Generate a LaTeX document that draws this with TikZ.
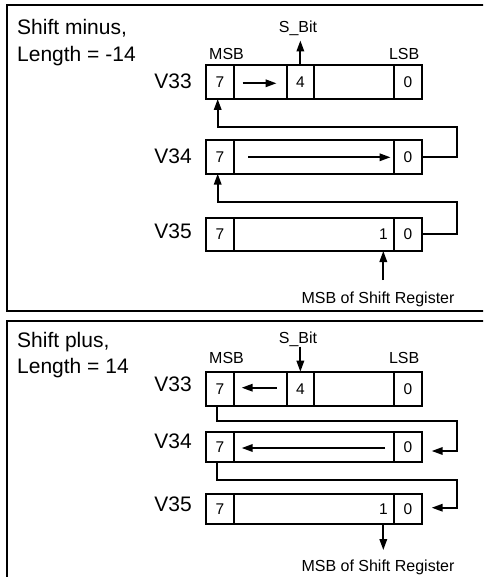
\documentclass[tikz,border=0pt]{standalone}
\usepackage{fontspec}
\setmainfont{Liberation Sans}
\usetikzlibrary{arrows.meta}
\begin{document}
\begin{tikzpicture}[x=1pt,y=-1pt,
  cell/.style={draw, line width=2pt, inner sep=0pt, outer sep=0pt, font=\fontsize{15.5}{18}\selectfont},
  panel/.style={draw, line width=2.2pt},
  title/.style={anchor=base west, inner sep=0pt, font=\fontsize{21}{25}\selectfont},
  reglabel/.style={anchor=base east, inner sep=0pt, font=\fontsize{21}{25}\selectfont},
  small/.style={inner sep=0pt, font=\fontsize{16}{19}\selectfont},
  arr/.style={line width=1.8pt, -{Triangle[length=11pt,width=7.5pt]}}
]
\path[use as bounding box, clip] (0,0) rectangle (483,577);

% ---------- top panel ----------
\draw[panel] (7.3,5.3) rectangle (495,310.7);
\node[title] (t1) at (17,35) {Shift minus,};
\node[title] (t2) at (17,61.7) {Length = -14};
\node[reglabel] (l33a) at (192,88.3) {V33};
\node[reglabel] (l34a) at (192,163.3) {V34};
\node[reglabel] (l35a) at (192,238.3) {V35};
\node[small, anchor=base west] (msba) at (209,59.3) {MSB};
\node[small, anchor=base east] (lsba) at (419.5,59.3) {LSB};
\node[small, anchor=base] (sba) at (298,32.5) {S\_Bit};

% V33 (top)
\node[cell, minimum width=28.6pt, minimum height=33.7pt] (a7) at (220,82.15) {7};
\node[cell, minimum width=52.4pt, minimum height=33.7pt] (aA) at (260.5,82.15) {};
\node[cell, minimum width=27.3pt, minimum height=33.7pt] (a4) at (300.35,82.15) {4};
\node[cell, minimum width=80.3pt, minimum height=33.7pt] (aB) at (354.15,82.15) {};
\node[cell, minimum width=27.4pt, minimum height=33.7pt] (a0) at (408,82.15) {0};
% V34 (top)
\node[cell, minimum width=28.6pt, minimum height=33.7pt] (b7) at (220,156.85) {7};
\node[cell, minimum width=160pt, minimum height=33.7pt] (bM) at (314.3,156.85) {};
\node[cell, minimum width=27.4pt, minimum height=33.7pt] (b0) at (408,156.85) {0};
% V35 (top)
\node[cell, minimum width=28.6pt, minimum height=33.3pt] (c7) at (220,234.35) {7};
\node[cell, minimum width=160pt, minimum height=33.3pt] (cM) at (314.3,234.35) {};
\node[cell, minimum width=27.4pt, minimum height=33.3pt] (c0) at (408,234.35) {0};
\node[small, font=\fontsize{15.5}{18}\selectfont, anchor=east] (c1) at (388,234.35) {1};

\node[small, anchor=base] (msrA) at (378,303) {MSB of Shift Register};
\coordinate (msrAs) at (383.3,280);
\coordinate (sbaT) at (300.35,40.5);

% arrows top
\draw[arr] (a4.north) -- (sbaT);
\draw[arr] (242.7,83.3) -- (276.5,83.3);
\draw[arr] (248,157.3) -- (390.5,157.3);
\draw[arr] (b0.east) -| (456.7,126.7) -| ([xshift=-2.3pt]a7.south);
\draw[arr] (c0.east) -| (456.7,201.7) -| ([xshift=-2.3pt]b7.south);
\draw[arr] (msrAs) -- (cM.south -| msrAs);

% ---------- bottom panel ----------
\draw[panel] (7.3,321.3) rectangle (495,600);
\node[title] (t3) at (17,347) {Shift plus,};
\node[title] (t4) at (17,373.7) {Length = 14};
\node[reglabel] (l33b) at (192,391.5) {V33};
\node[reglabel] (l34b) at (192,448) {V34};
\node[reglabel] (l35b) at (192,511.7) {V35};
\node[small, anchor=base west] (msbb) at (209,363.3) {MSB};
\node[small, anchor=base east] (lsbb) at (419.5,363.3) {LSB};
\node[small, anchor=base] (sbb) at (298,343.5) {S\_Bit};

% V33 (bottom)
\node[cell, minimum width=28.6pt, minimum height=34.3pt] (d7) at (220,388.85) {7};
\node[cell, minimum width=52.4pt, minimum height=34.3pt] (dA) at (260.5,388.85) {};
\node[cell, minimum width=27.3pt, minimum height=34.3pt] (d4) at (300.35,388.85) {4};
\node[cell, minimum width=80.3pt, minimum height=34.3pt] (dB) at (354.15,388.85) {};
\node[cell, minimum width=27.4pt, minimum height=34.3pt] (d0) at (408,388.85) {0};
% V34 (bottom)
\node[cell, minimum width=28.6pt, minimum height=29.4pt] (e7) at (220,447) {7};
\node[cell, minimum width=160pt, minimum height=29.4pt] (eM) at (314.3,447) {};
\node[cell, minimum width=27.4pt, minimum height=29.4pt] (e0) at (408,447) {0};
% V35 (bottom)
\node[cell, minimum width=28.6pt, minimum height=30pt] (f7) at (220,509) {7};
\node[cell, minimum width=160pt, minimum height=30pt] (fM) at (314.3,509) {};
\node[cell, minimum width=27.4pt, minimum height=30pt] (f0) at (408,509) {0};
\node[small, font=\fontsize{15.5}{18}\selectfont, anchor=east] (f1) at (388,509) {1};

\node[small, anchor=base] (msrB) at (378,571) {MSB of Shift Register};
\coordinate (sbbT) at (300.35,346.7);
\coordinate (msrBe) at (383.3,550);

% arrows bottom
\draw[arr] (sbbT) -- (d4.north);
\draw[arr] (276.7,387.7) -- (241.7,387.7);
\draw[arr] (385,448) -- (241.7,448);
\draw[arr] ([xshift=-2.7pt]d7.south) |- (456.7,420.7) |- (431.7,451);
\draw[arr] ([xshift=-2.7pt]e7.south) |- (456.7,480) |- (431.7,507.7);
\draw[arr] (fM.south -| msrBe) -- (msrBe);
\end{tikzpicture}
\end{document}
